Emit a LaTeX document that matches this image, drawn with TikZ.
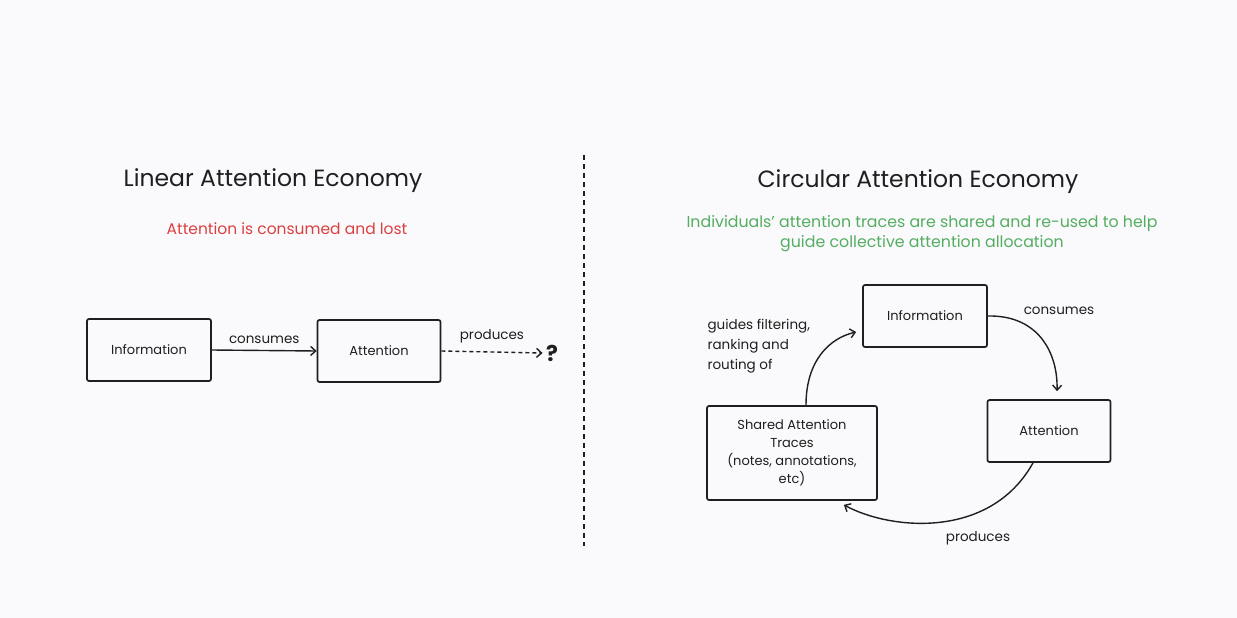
\documentclass[tikz,border=0pt]{standalone}
\usepackage{fontspec}
\setmainfont{Poppins}
\usepackage{xcolor}
\definecolor{paper}{rgb}{0.98,0.98,0.99}
\definecolor{ink}{rgb}{0.12,0.12,0.12}
\definecolor{lossred}{rgb}{0.86,0.25,0.25}
\definecolor{reusegreen}{rgb}{0.33,0.68,0.38}
\usetikzlibrary{arrows.meta, calc}
\tikzset{
    box/.style={draw=ink, line width=1.7pt, rounded corners=2pt, align=center,
        font=\fontsize{13}{18}\selectfont, text=ink},
    lbl/.style={font=\fontsize{13.5}{16}\selectfont, text=ink, align=left},
    title/.style={font=\fontsize{23.5}{28}\selectfont, text=ink},
    flow/.style={draw=ink, line width=1.4pt, -{Straight Barb[length=5pt,width=9pt]}},
}
\begin{document}
\begin{tikzpicture}
    [x=1pt, y=-1pt]
    \fill[paper] (0,0) rectangle (1237,618);
    \useasboundingbox (0,0) rectangle (1237,618);
    % left half
    \node[title] (lt) at (273,181) {Linear Attention Economy};
    \node[font=\fontsize{15.5}{18}\selectfont, text=lossred] (lsub) at (287,229)
        {Attention is consumed and lost};
    \node[box, minimum width=124pt, minimum height=62pt] (linfo) at (149,350) {Information};
    \node[box, minimum width=123pt, minimum height=62pt] (latt) at (379,351) {Attention};
    \node[font=\fontsize{22}{26}\selectfont\bfseries, text=ink] (q) at (552,353) {?};
    \draw[flow] (linfo.east) -- (latt.west)
        node[lbl, midway, above=3pt] {consumes};
    \draw[flow, dash pattern=on 4pt off 3pt] (latt.east) -- (q.west)
        node[lbl, midway, above=5pt] {produces};
    % divider
    \coordinate (dtop) at (584,155);
    \coordinate (dbot) at (584,546);
    \draw[ink, line width=1.7pt, dash pattern=on 5pt off 4pt] (dtop) -- (dbot);
    % right half
    \node[title] (rt) at (918,182) {Circular Attention Economy};
    \node[font=\fontsize{15.8}{20}\selectfont, text=reusegreen, align=center] (rsub) at (922,234)
        {Individuals' attention traces are shared and re-used to help\\
         guide collective attention allocation};
    \node[box, minimum width=124pt, minimum height=62pt] (rinfo) at (925,316) {Information};
    \node[box, minimum width=123pt, minimum height=62pt] (ratt) at (1049,431) {Attention};
    \node[box, minimum width=170pt, minimum height=94pt] (trace) at (792,453)
        {Shared Attention\\Traces\\(notes, annotations,\\etc)};
    \draw[flow] (rinfo.east) .. controls (1040,315) and (1058,355) .. ($(ratt.north)+(8,-8)$);
    \draw[flow] ($(ratt.south)+(-16,0)$) .. controls (990,540) and (890,530) .. ($(trace.south east)+(-34,4)$);
    \draw[flow] ($(trace.north)+(14,0)$) .. controls (806,360) and (830,338) .. ($(rinfo.west)+(-6,16)$);
    % text
    \node[lbl] (lcons) at (1059,311) {consumes};
    \node[lbl] (lprod) at (978,538) {produces};
    \node[lbl, anchor=west, font=\fontsize{13.5}{20}\selectfont] (lguide) at (704,346)
        {guides filtering,\\ranking and\\routing of};
\end{tikzpicture}
\end{document}
